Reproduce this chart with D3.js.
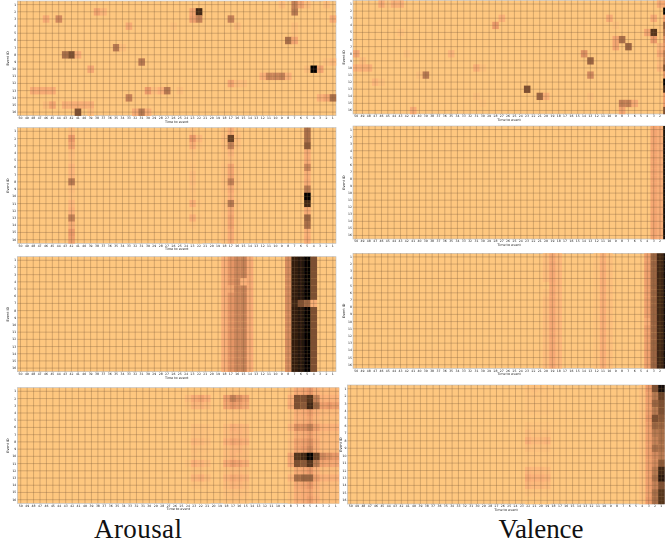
<!DOCTYPE html>
<html>
<head>
<meta charset="utf-8">
<script src="https://cdn.jsdelivr.net/npm/d3@7/dist/d3.min.js"></script>
<style>
html, body { margin: 0; padding: 0; background: #fff; overflow: hidden; }
svg { display: block; }
text { font-family: "DejaVu Sans", sans-serif; fill: #222; }
.title { font-family: "Liberation Serif", serif; font-size: 27px; fill: #111; }
</style>
</head>
<body>
<svg id="chart" width="665" height="548"></svg>
<script>
const timeToEvent = d3.range(50, 0, -1);
const eventIds = d3.range(1, 17);

// sparse panels: [event id, time to event, value]
const arousalFirst = [
    [1,9,.05],[1,7,.45],[1,6,.2],[1,5,.05],[1,2,.05],
    [2,38,.2],[2,37,.08],[2,23,.2],[2,22,.85],[2,7,.5],
    [3,46,.15],[3,44,.4],[3,23,.25],[3,22,.45],[3,17,.45],[3,1,.15],
    [4,33,.15],[4,26,.03],[4,16,.05],[4,7,.04],
    [5,7,.03],
    [6,8,.55],[6,7,.2],
    [7,35,.5],[7,34,.04],
    [8,43,.55],[8,42,.7],[8,41,.15],
    [9,31,.5],[9,2,.03],[9,1,.06],
    [10,39,.18],[10,5,.04],[10,4,1],[10,3,.2],
    [11,12,.1],[11,11,.42],[11,10,.42],[11,9,.45],[11,8,.1],
    [12,17,.2],[12,16,.05],[12,15,.04],
    [13,48,.15],[13,47,.15],[13,46,.15],[13,45,.15],[13,30,.28],[13,29,.05],[13,28,.1],[13,27,.5],[13,25,.04],
    [14,33,.45],[14,3,.1],[14,2,.2],[14,1,.55],
    [15,46,.05],[15,45,.2],[15,43,.12],[15,42,.12],[15,41,.12],[15,40,.12],[15,39,.12],
    [16,41,.7],[16,39,.05],[16,32,.15],[16,31,.5],[16,30,.12]
];
const valenceFirst = [
    [1,46,.15],[1,45,.03],[1,44,.12],[1,43,.12],[1,2,.15],[1,1,.2],
    [2,1,1],
    [3,27,.1],[3,10,.15],[3,3,.15],[3,1,.3],
    [4,28,.3],[4,9,.03],[4,1,.65],
    [5,43,.03],[5,4,.2],[5,3,.8],[5,1,.55],
    [6,9,.2],[6,8,.55],[6,3,.3],[6,1,.4],
    [7,9,.2],[7,7,.6],[7,2,.08],[7,1,.35],
    [8,50,.18],[8,42,.03],[8,35,.08],[8,14,.35],[8,2,.15],[8,1,.5],
    [9,49,.05],[9,13,.6],[9,2,.05],[9,1,.5],
    [10,50,.1],[10,49,.12],[10,48,.12],[10,31,.12],[10,30,.03],[10,2,.07],[10,1,.7],
    [11,40,.03],[11,39,.5],[11,13,.4],[11,1,.35],
    [12,47,.07],[12,46,.03],[12,1,1],
    [13,23,.7],[13,1,.85],
    [14,31,.03],[14,21,.6],[14,20,.12],[14,13,.03],[14,1,.3],
    [15,30,.02],[15,8,.45],[15,7,.45],[15,6,.15],[15,1,.3],
    [16,41,.15],[16,8,.2],[16,1,.7]
];

// dense panels: [time to event, values for events 1..16]
const arousalSecond = [
    [42,[.05,.3,.2,.05,.04,.08,.08,.5,.05,.03,.07,.1,.45,.12,.3,.25]],
    [23,[.03,.3,.12,.02,.01,.02,.05,.05,.03,.02,.12,.02,.12,.02,0,0]],
    [22,[0,.06,.02,0,0,0,0,0,0,0,.01,0,.01,0,0,0]],
    [18,[.03,.05,.04,.02,.02,.03,.03,.04,.03,.02,.04,.03,.03,.03,.03,.03]],
    [17,[.12,.75,.45,.08,.05,.2,.2,.45,.15,.1,.5,.15,.2,.2,.15,.15]],
    [16,[.02,.05,.04,.01,.01,.02,.02,.03,.02,.01,.03,.02,.02,.02,.02,.02]],
    [5,[.55,.55,.65,.15,.15,.42,.12,.15,.5,1,.85,.15,.6,.55,.12,.15]]
];
const valenceSecond = [
    [3,[.2,.2,.2,.2,.2,.2,.2,.2,.2,.2,.2,.2,.2,.2,.2,.2]],
    [2,[.13,.13,.13,.13,.13,.13,.13,.13,.13,.13,.13,.13,.13,.13,.13,.13]],
    [1,[.93,.93,.95,.95,.93,.95,.95,.93,.95,.95,.93,.95,.95,.93,.95,.95]]
];
const arousalThird = [
    [18,[.13,.13,.13,.13,.13,.13,.13,.13,.13,.13,.13,.13,.13,.13,.13,.13]],
    [17,[.33,.33,.33,.33,.2,.33,.33,.33,.33,.33,.33,.33,.33,.33,.33,.33]],
    [16,[.42,.42,.42,.42,.42,.42,.42,.42,.42,.42,.42,.42,.42,.42,.42,.42]],
    [15,[.45,.45,.45,.1,.45,.45,.45,.45,.45,.45,.45,.45,.45,.45,.45,.45]],
    [14,[.15,.15,.15,.15,.15,.15,.15,.15,.15,.15,.15,.15,.15,.15,.15,.15]],
    [8,[.38,.38,.38,.38,.38,.38,.38,.38,.38,.38,.38,.38,.38,.38,.38,.38]],
    [7,[.88,.88,.88,.88,.88,.88,.85,.88,.88,.88,.88,.88,.88,.88,.88,.88]],
    [6,[.92,.92,.92,.92,.92,.92,.7,.92,.92,.92,.92,.92,.92,.92,.92,.92]],
    [5,[1,1,1,1,1,1,.6,1,1,1,1,1,1,1,1,1]],
    [4,[.7,.7,.7,.7,.7,.7,.12,.7,.7,.7,.7,.7,.7,.7,.7,.7]]
];
const valenceThird = [
    [20,[.05,.05,.05,.05,0,.03,.05,.05,.05,.05,.05,.05,.05,.05,.05,.05]],
    [19,[.18,.18,.18,.18,.16,.18,.18,.18,.18,.18,.18,.18,.18,.18,.18,.18]],
    [18,[.07,.07,.07,.07,.07,.07,.07,.07,.07,.07,.07,.07,.07,.07,.07,.07]],
    [12,[.02,.02,.02,.02,.02,.02,.02,.02,.02,.02,.02,.02,.02,.02,.02,.02]],
    [11,[.12,.12,.12,.12,.12,.12,.12,.12,.12,.12,.12,.12,.12,.12,.12,.12]],
    [10,[.04,.04,.04,.04,.04,.04,.04,.04,.04,.04,.04,.04,.04,.04,.04,.04]],
    [4,[.25,.25,.25,.25,.25,.25,.25,.25,.25,.15,.25,.25,.25,.25,.25,.25]],
    [3,[.6,.6,.6,.6,.6,.6,.6,.6,.6,.6,.6,.6,.6,.6,.6,.6]],
    [2,[.85,.85,.85,.85,.85,.85,.85,.85,.85,.85,.85,.85,.85,.85,.85,.85]],
    [1,[.95,.95,.95,.95,.95,.95,.95,.95,.95,.95,.95,.95,.95,.95,.95,.95]]
];
const arousalFourth = [
    [24,[0,.05,.02,0,0,0,0,.01,0,0,.02,0,.01,0,0,0]],
    [23,[0,.15,.08,0,0,.03,.03,.07,.04,.03,.1,.03,.08,.02,0,0]],
    [22,[0,.2,.08,0,0,.03,.03,.06,.03,.02,.08,.03,.1,.02,0,0]],
    [21,[0,.1,.05,0,0,.02,.02,.04,.02,.01,.05,.01,.05,.01,0,0]],
    [18,[.01,.25,.2,.01,.01,.05,.05,.1,.05,.05,.15,.04,.08,.05,.03,.02]],
    [17,[.02,.45,.3,.02,.02,.1,.08,.18,.08,.08,.25,.06,.15,.08,.04,.03]],
    [16,[.02,.35,.25,.02,.02,.08,.08,.15,.08,.06,.2,.06,.12,.07,.04,.03]],
    [15,[.01,.22,.15,.01,.01,.06,.06,.1,.05,.05,.12,.04,.08,.05,.03,.02]],
    [8,[.04,.12,.15,.03,.03,.08,.03,.05,.05,.2,.18,.03,.08,.03,.03,.03]],
    [7,[.15,.7,.7,.12,.1,.35,.12,.22,.22,.8,.7,.15,.55,.15,.12,.12]],
    [6,[.2,.7,.65,.14,.12,.35,.15,.25,.28,.85,.65,.2,.6,.2,.15,.15]],
    [5,[.3,.8,.85,.25,.2,.45,.25,.35,.4,1,.8,.3,.6,.3,.2,.25]],
    [4,[.12,.45,.6,.1,.08,.25,.1,.15,.15,.75,.5,.1,.25,.1,.08,.1]],
    [3,[.06,.1,.25,.06,.05,.1,.06,.06,.06,.4,.22,.05,.1,.05,.04,.04]],
    [2,[.06,.1,.3,.06,.05,.1,.06,.06,.06,.35,.2,.05,.1,.05,.04,.04]],
    [1,[.06,.1,.25,.06,.05,.1,.06,.06,.06,.3,.18,.05,.1,.05,.04,.04]]
];
const valenceFourth = [
    [22,[.02,.01,.01,.01,0,.02,.05,.1,.04,.01,.01,.08,.14,.08,.02,0]],
    [21,[.04,.02,.01,.01,0,.01,.03,.06,.03,.01,.01,.06,.1,.06,.01,0]],
    [20,[.02,.01,.01,.01,0,.01,.03,.06,.03,.01,.01,.06,.1,.06,.01,0]],
    [19,[.01,.01,.01,.01,0,.01,.03,.08,.03,.01,.01,.05,.08,.05,.01,0]],
    [4,[.03,.03,.03,.03,.03,.03,.03,.03,.03,.03,.03,.03,.03,.03,.03,.03]],
    [3,[.3,.25,.25,.25,.3,.25,.25,.25,.25,.25,.25,.25,.25,.25,.25,.3]],
    [2,[.7,.5,.6,.5,.7,.6,.5,.45,.55,.4,.4,.5,.55,.45,.55,.55]],
    [1,[.95,.75,.7,.7,.65,.6,.55,.55,.55,.5,.65,.85,.9,.7,.8,.8]]
];

const colourStops = [0, .1, .3, .5, .7, .85, 1];
const colourRange = ['#fec77f', '#fcb27a', '#eb9a6a', '#b97a52', '#7d4f31', '#3f2614', '#000000'];
const colour = d3.scaleLinear().domain(colourStops).range(colourRange);

function fromColumns(columns) {
    return columns.flatMap(c => c[1].map((v, i) => [eventIds[i], c[0], v]));
}

const panels = [
    {cells: arousalFirst, x: [17.3, 336], y: [1, 115.7], labelX: 9, tickGap: 1.2},
    {cells: valenceFirst, x: [353, 669.5], y: [.5, 114], labelX: 345, tickGap: 1},
    {cells: fromColumns(arousalSecond), x: [17.3, 336], y: [127.7, 243.3], labelX: 9, tickGap: 1.2},
    {cells: fromColumns(valenceSecond), x: [353, 669.5], y: [126, 239], labelX: 345, tickGap: 1},
    {cells: fromColumns(arousalThird), x: [17.3, 336], y: [256.7, 371.7], labelX: 9, tickGap: 1.2},
    {cells: fromColumns(valenceThird), x: [353, 669.5], y: [253.3, 368.3], labelX: 345, tickGap: 1},
    {cells: fromColumns(arousalFourth), x: [17.5, 339], y: [387.7, 503.3], labelX: 9, tickGap: 1.2},
    {cells: fromColumns(valenceFourth), x: [347.5, 664.5], y: [385, 504], labelX: 341.5, tickGap: 1}
];

const svg = d3.select('#chart');

svg.append('defs').append('filter')
    .attr('id', 'soft')
    .attr('filterUnits', 'userSpaceOnUse')
    .attr('x', 0).attr('y', 0).attr('width', 665).attr('height', 548)
    .append('feGaussianBlur').attr('stdDeviation', .6);

const soft = svg.append('g').attr('filter', 'url(#soft)');

panels.forEach(function(p) {
    let xScale = d3.scaleBand().domain(timeToEvent).range(p.x);
    let yScale = d3.scaleBand().domain(eventIds).range(p.y);
    let g = soft.append('g');
    let height = p.y[1] - p.y[0];

    g.append('rect')
        .attr('x', p.x[0])
        .attr('y', p.y[0])
        .attr('width', p.x[1] - p.x[0])
        .attr('height', height)
        .attr('fill', colour(0))
        .attr('stroke', '#bbb')
        .attr('stroke-width', .6);

    g.selectAll('rect.cell').data(p.cells).enter().append('rect')
        .classed('cell', true)
        .attr('x', d => xScale(d[1]))
        .attr('y', d => yScale(d[0]))
        .attr('width', xScale.bandwidth() + .2)
        .attr('height', yScale.bandwidth() + .2)
        .attr('fill', d => colour(d[2]));

    // grid lines come from the ticks of the axes; the tick that falls off the page is dropped
    let visibleTimes = timeToEvent.filter(t => xScale(t) + xScale.bandwidth() / 2 < 662);
    let xAxis = d3.axisBottom(xScale).tickValues(visibleTimes).tickSize(-height).tickPadding(1.2);
    let xGroup = g.append('g')
        .attr('transform', 'translate(0,' + p.y[1] + ')')
        .call(xAxis);
    let yAxis = d3.axisLeft(yScale).tickSize(-(p.x[1] - p.x[0])).tickPadding(p.tickGap);
    let yGroup = g.append('g')
        .attr('transform', 'translate(' + p.x[0] + ',0)')
        .call(yAxis);

    [xGroup, yGroup].forEach(function(a) {
        a.select('.domain').remove();
        a.selectAll('line').attr('stroke', '#7a5a3a').attr('stroke-opacity', .45).attr('stroke-width', .7);
        a.selectAll('text').attr('font-size', 3.1).style('font-family', '"DejaVu Sans", sans-serif');
    });

    g.append('text')
        .attr('x', (p.x[0] + Math.min(p.x[1], 665)) / 2)
        .attr('y', p.y[1] + 7)
        .attr('text-anchor', 'middle')
        .attr('font-size', 3.4)
        .text('Time to event');

    g.append('text')
        .attr('transform', 'translate(' + p.labelX + ',' + (p.y[0] + height / 2) + ') rotate(-90)')
        .attr('text-anchor', 'middle')
        .attr('font-size', 3.4)
        .text('Event ID');
});

svg.append('text').attr('class', 'title')
    .attr('x', 138).attr('y', 538).attr('text-anchor', 'middle')
    .attr('textLength', 88).text('Arousal');
svg.append('text').attr('class', 'title')
    .attr('x', 541).attr('y', 538).attr('text-anchor', 'middle')
    .attr('textLength', 85).text('Valence');
</script>
</body>
</html>
